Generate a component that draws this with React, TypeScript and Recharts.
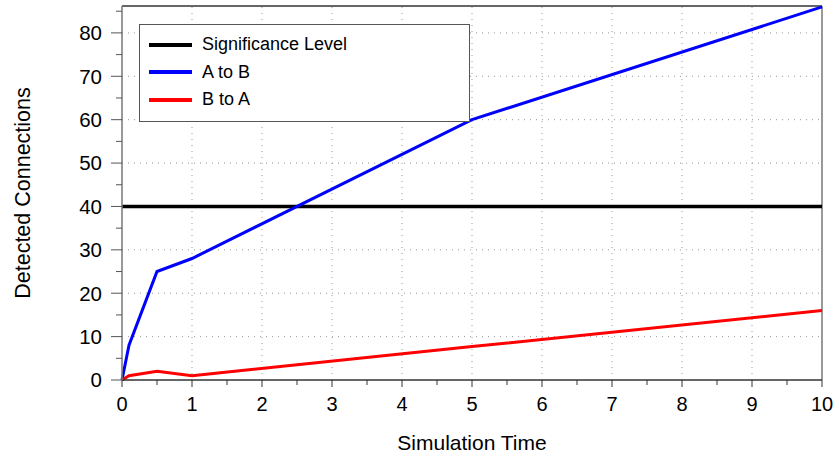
import { Legend, Line, LineChart, ReferenceLine, XAxis, YAxis } from "recharts";

const times = [0, 0.1, 0.5, 1, 5, 10];
const significance = [40, 40, 40, 40, 40, 40];
const aToB = [0, 8, 25, 28, 60, 86];
const bToA = [0, 1, 2, 1, 7.7, 16];

const xMajor = [0, 1, 2, 3, 4, 5, 6, 7, 8, 9, 10];
const xMinor = [0.5, 1.5, 2.5, 3.5, 4.5, 5.5, 6.5, 7.5, 8.5, 9.5];
const yMajor = [0, 10, 20, 30, 40, 50, 60, 70, 80];
const yMinor = [5, 15, 25, 35, 45, 55, 65, 75, 85];
const yMax = 86.2;

const series = [
  { key: "sig", name: "Significance Level", color: "#000000", width: 3.5 },
  { key: "ab", name: "A to B", color: "#0000ff", width: 3 },
  { key: "ba", name: "B to A", color: "#ff0000", width: 3 },
];

const data = times.map((t, i) => ({
  t,
  sig: significance[i],
  ab: aToB[i],
  ba: bToA[i],
}));

const font = '"Liberation Sans", Arial, sans-serif';

function XTick({ x, y, payload }: any) {
  const major = xMajor.includes(payload.value);
  return (
    <g>
      <line x1={x} x2={x} y1={y} y2={y + (major ? 7 : 5)} stroke="#333" strokeWidth={1} />
      {major && (
        <text x={x} y={y + 17} dy="0.71em" textAnchor="middle" fontSize={20} fill="#000" fontFamily={font}>
          {payload.value}
        </text>
      )}
    </g>
  );
}

function YTick({ x, y, payload }: any) {
  const major = yMajor.includes(payload.value);
  return (
    <g>
      <line x1={x - (major ? 11 : 6)} x2={x} y1={y} y2={y} stroke="#555" strokeWidth={1} />
      {major && (
        <text x={x - 20} y={y} dy="0.355em" textAnchor="end" fontSize={20.5} fill="#000" fontFamily={font}>
          {payload.value}
        </text>
      )}
    </g>
  );
}

function LegendBox() {
  return (
    <div
      style={{
        width: 329,
        height: 90,
        border: "1px solid #555",
        background: "#fff",
        fontFamily: font,
        fontSize: 18,
        paddingTop: 6,
        boxSizing: "content-box",
      }}
    >
      {series.map((s) => (
        <div key={s.key} style={{ display: "flex", alignItems: "center", height: 27.5 }}>
          <div style={{ marginLeft: 9, width: 43, height: 4, background: s.color }} />
          <span style={{ marginLeft: 10, color: "#000" }}>{s.name}</span>
        </div>
      ))}
    </div>
  );
}

export default function App() {
  return (
    <div style={{ position: "absolute", left: 0, top: 0, width: 839, height: 456, background: "#fff" }}>
      <LineChart width={839} height={456} data={data} margin={{ top: 6, right: 17, left: 0, bottom: 0 }}>
        <XAxis
          dataKey="t"
          type="number"
          domain={[0, 10]}
          ticks={[...xMajor, ...xMinor].sort((a, b) => a - b)}
          height={76}
          tickSize={0}
          tickMargin={0}
          tickLine={false}
          tick={<XTick />}
          interval={0}
          axisLine={{ stroke: "#333", strokeWidth: 1.5 }}
          label={{
            value: "Simulation Time",
            position: "insideBottom",
            offset: 6,
            style: { fontSize: 21, fontFamily: font, fill: "#000" },
          }}
        />
        <YAxis
          type="number"
          domain={[0, yMax]}
          ticks={[...yMajor, ...yMinor].sort((a, b) => a - b)}
          width={122}
          tickSize={0}
          tickMargin={0}
          tickLine={false}
          tick={<YTick />}
          interval={0}
          axisLine={{ stroke: "#777", strokeWidth: 1.5 }}
          label={{
            value: "Detected Connections",
            angle: -90,
            position: "insideLeft",
            offset: 22,
            style: { fontSize: 21.5, fontFamily: font, fill: "#000", textAnchor: "middle" },
          }}
        />
        {xMajor.slice(1, -1).map((v) => (
          <ReferenceLine key={"gx" + v} x={v} stroke="#999" strokeDasharray="1 5" />
        ))}
        {yMajor.slice(1).map((v) => (
          <ReferenceLine key={"gy" + v} y={v} stroke="#999" strokeDasharray="1 5" />
        ))}
        <ReferenceLine y={yMax} stroke="#333" strokeWidth={1.5} />
        <ReferenceLine x={10} stroke="#999" strokeWidth={2} />
        {series.map((s) => (
          <Line
            key={s.key}
            type="linear"
            dataKey={s.key}
            name={s.name}
            stroke={s.color}
            strokeWidth={s.width}
            dot={false}
            activeDot={false}
            isAnimationActive={false}
          />
        ))}
        <Legend
          layout="vertical"
          align="center"
          verticalAlign="middle"
          content={() => <LegendBox />}
          wrapperStyle={{ left: 139, top: 24, width: 331, height: 98 }}
        />
      </LineChart>
    </div>
  );
}
